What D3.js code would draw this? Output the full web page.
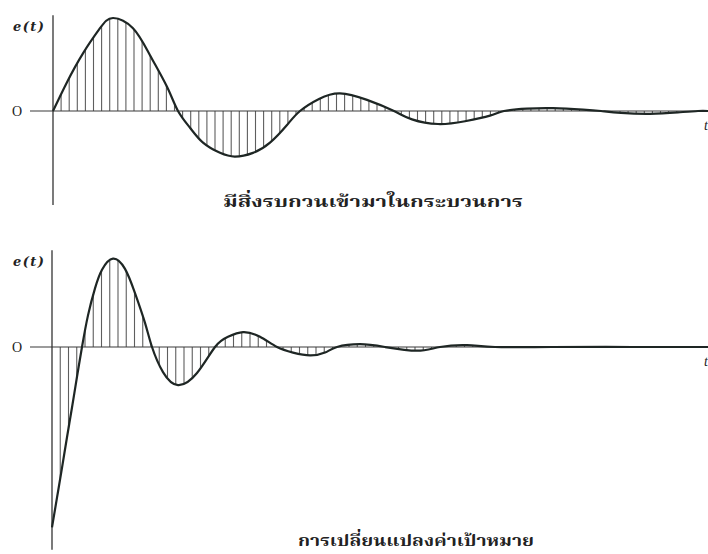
<!DOCTYPE html>
<html>
<head>
<meta charset="utf-8">
<script src="https://cdn.jsdelivr.net/npm/d3@7"></script>
<style>
  html, body { margin: 0; padding: 0; background: #fff; }
  svg { display: block; }
</style>
</head>
<body>
<svg id="chart" width="708" height="554"></svg>
<script>
// ---- data (t: time units, e: error units) ----
const topT = [0, 14, 30, 47, 60, 80, 97, 114, 125, 137, 150, 167, 182, 200, 217, 234, 247,
              266, 287, 314, 341, 359, 385, 412, 437, 451, 474, 500, 530, 548, 568, 597, 625, 645, 655];
const topE = [0, 31, 62, 89, 100, 89, 60, 26, 0, -18, -34, -45, -49, -45, -34, -15, 0,
              13, 19, 12, 0, -9, -14, -11, -5, 0, 2.5, 3, 1.5, 0, -2, -3, -1.5, 0, 0];

const botT = [0, 5, 10, 15, 20, 25, 30, 36, 43, 50, 61, 73, 83, 93, 100, 111, 126, 145, 163,
              176, 191, 208, 225, 241, 258, 273, 285, 308, 333, 365, 388, 415, 443, 500, 580, 656];
const botE = [-194, -162, -130, -97, -65, -32, 0, 34, 63, 83, 95, 84, 58, 26, 0, -27, -41, -28, 0,
              11, 16, 11, 0, -6, -9, -6, 0, 3, 0, -4, 0, 2, 0, 0, 0, 0];

const yLabel = "e(t)";
const xLabel = "t";
const zeroLabel = "O";
const captionTop = "มีสิ่งรบกวนเข้ามาในกระบวนการ";
const captionBottom = "การเปลี่ยนแปลงค่าเป้าหมาย";

// ---- drawing ----
const svg = d3.select("#chart");
const thaiFont = "'Noto Serif Thai','Noto Sans Thai','Loma','Garuda','Norasi','Tlwg Typo','DejaVu Serif',serif";

const panels = [
  { t: topT, e: topE, xDom: [0, 655], xRange: [53, 708], yDom: [-100, 100], yRange: [204, 18],
    axisTop: 103, axisBottom: -101, hatch: 8.1, caption: captionTop, capX: 373, capY: 207, capW: 300 },
  { t: botT, e: botE, xDom: [0, 656], xRange: [52, 708], yDom: [-200, 100], yRange: [533, 254],
    axisTop: 104, axisBottom: -218, hatch: 8.25, caption: captionBottom, capX: 416, capY: 546, capW: 236 }
];

panels.forEach(p => {
  const x = d3.scaleLinear().domain(p.xDom).range(p.xRange);
  const y = d3.scaleLinear().domain(p.yDom).range(p.yRange);
  const g = svg.append("g");
  const data = p.t.map((t, i) => ({ t, e: p.e[i] }));

  const line = d3.line().x(d => x(d.t)).y(d => y(d.e)).curve(d3.curveNatural);
  const path = g.append("path").datum(data).attr("d", line)
    .attr("fill", "none").attr("stroke", "none");
  const node = path.node();
  const L = node.getTotalLength();
  const samples = d3.range(0, 4001).map(i => node.getPointAtLength(L * i / 4000));
  const bis = d3.bisector(s => s.x).left;
  function yAt(px) {
    const i = Math.min(Math.max(bis(samples, px), 1), samples.length - 1);
    const a = samples[i - 1], b = samples[i];
    const f = (b.x === a.x) ? 0 : (px - a.x) / (b.x - a.x);
    return a.y + f * (b.y - a.y);
  }

  // hatching
  const y0 = y(0);
  const hx = d3.range(p.xDom[0] + p.hatch, p.xDom[1], p.hatch).map(t => x(t));
  g.append("g").selectAll("line").data(hx).join("line")
    .attr("x1", d => d).attr("x2", d => d)
    .attr("y1", y0).attr("y2", d => yAt(d))
    .attr("stroke", "#5e5e5e").attr("stroke-width", 1.1);

  // zero line
  g.append("line").attr("x1", 30).attr("x2", 708).attr("y1", y0).attr("y2", y0)
    .attr("stroke", "#3a3a3a").attr("stroke-width", 1.2);
  // vertical axis
  g.append("line").attr("x1", x(0)).attr("x2", x(0))
    .attr("y1", y(p.axisTop)).attr("y2", y(p.axisBottom))
    .attr("stroke", "#333").attr("stroke-width", 1.3);

  // curve on top
  g.append("path").datum(data).attr("d", line)
    .attr("fill", "none").attr("stroke", "#1e2624").attr("stroke-width", 2.2)
    .attr("stroke-linejoin", "round");

  // labels
  g.append("text").text(yLabel).attr("x", 13).attr("y", y(p.axisTop) + 16)
    .attr("font-family", "'DejaVu Serif','Liberation Serif',serif").attr("font-style", "italic")
    .attr("font-weight", "bold").attr("font-size", 13).attr("fill", "#222")
    .attr("textLength", 31).attr("lengthAdjust", "spacing");
  g.append("text").text(zeroLabel).attr("x", 12).attr("y", y0 + 5)
    .attr("font-family", "'Liberation Serif','DejaVu Serif',serif")
    .attr("font-size", 14).attr("fill", "#222");
  g.append("text").text(xLabel).attr("x", 704).attr("y", y0 + 19)
    .attr("font-family", "'Liberation Serif','DejaVu Serif',serif").attr("font-style", "italic")
    .attr("font-size", 14).attr("fill", "#222");

  g.append("text").text(p.caption).attr("x", p.capX).attr("y", p.capY)
    .attr("text-anchor", "middle")
    .attr("font-family", thaiFont).attr("font-weight", "bold")
    .attr("font-size", 16).attr("fill", "#222")
    .attr("textLength", p.capW).attr("lengthAdjust", "spacingAndGlyphs");
});
</script>
</body>
</html>
